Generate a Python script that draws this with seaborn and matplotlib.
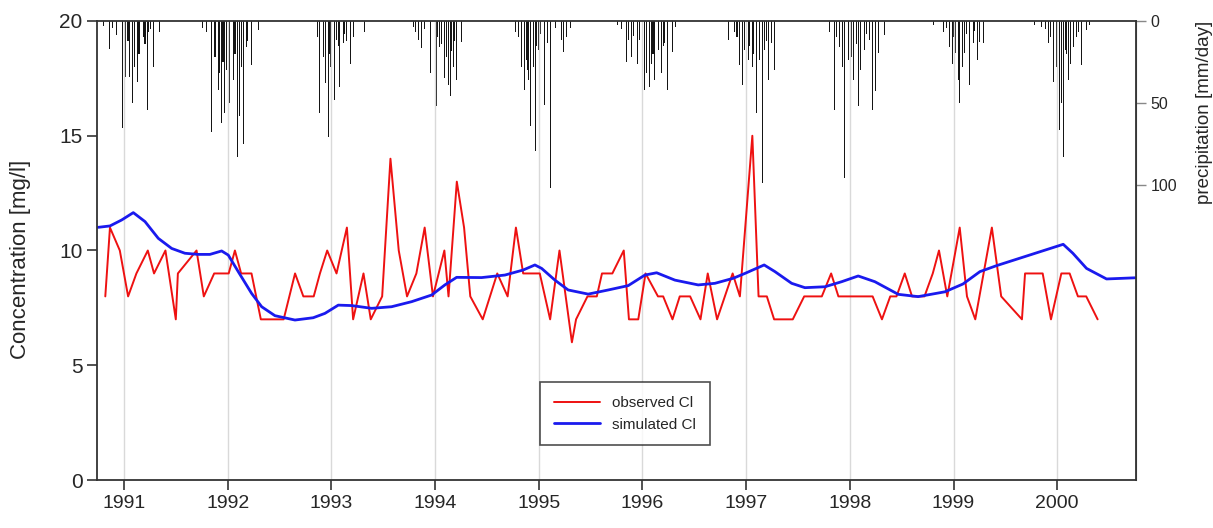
import matplotlib
matplotlib.use("Agg")
import matplotlib.pyplot as plt
import seaborn as sns
import pandas as pd

# ---------------- data (decimal years) ----------------
obs_dates = [1990.82, 1990.865, 1990.96, 1991.04, 1991.12, 1991.23, 1991.29, 1991.40, 1991.50, 1991.52,
             1991.70, 1991.77, 1991.87, 1992.01, 1992.07, 1992.13, 1992.23, 1992.32, 1992.54, 1992.65,
             1992.73, 1992.83, 1992.89, 1992.96, 1993.05, 1993.15, 1993.21, 1993.31, 1993.38, 1993.49,
             1993.57, 1993.65, 1993.73, 1993.82, 1993.90, 1993.98, 1994.09, 1994.13, 1994.21, 1994.28,
             1994.34, 1994.46, 1994.60, 1994.70, 1994.78, 1994.85, 1995.01, 1995.11, 1995.20, 1995.32,
             1995.36, 1995.47, 1995.56, 1995.61, 1995.71, 1995.82, 1995.87, 1995.96, 1996.03, 1996.15,
             1996.20, 1996.29, 1996.36, 1996.46, 1996.56, 1996.63, 1996.72, 1996.87, 1996.94, 1997.06,
             1997.12, 1997.20, 1997.27, 1997.45, 1997.56, 1997.73, 1997.82, 1997.89, 1998.22, 1998.31,
             1998.39, 1998.45, 1998.53, 1998.60, 1998.72, 1998.80, 1998.86, 1998.94, 1999.06, 1999.13,
             1999.21, 1999.37, 1999.46, 1999.66, 1999.69, 1999.86, 1999.94, 2000.04, 2000.12, 2000.20,
             2000.28, 2000.39]
obs_values = [8, 11, 10, 8, 9, 10, 9, 10, 7, 9,
              10, 8, 9, 9, 10, 9, 9, 7, 7, 9,
              8, 8, 9, 10, 9, 11, 7, 9, 7, 8,
              14, 10, 8, 9, 11, 8, 10, 8, 13, 11,
              8, 7, 9, 8, 11, 9, 9, 7, 10, 6,
              7, 8, 8, 9, 9, 10, 7, 7, 9, 8,
              8, 7, 8, 8, 7, 9, 7, 9, 8, 15,
              8, 8, 7, 7, 8, 8, 9, 8, 8, 7,
              8, 8, 9, 8, 8, 9, 10, 8, 11, 8,
              7, 11, 8, 7, 9, 9, 7, 9, 9, 8,
              8, 7]

sim_dates = [1990.752, 1990.865, 1990.978, 1991.090, 1991.203, 1991.331, 1991.460, 1991.588, 1991.716, 1991.829,
             1991.942, 1992.006, 1992.102, 1992.231, 1992.328, 1992.456, 1992.649, 1992.825, 1992.938, 1993.067,
             1993.196, 1993.389, 1993.581, 1993.774, 1993.967, 1994.095, 1994.208, 1994.449, 1994.674, 1994.850,
             1994.963, 1995.028, 1995.156, 1995.284, 1995.477, 1995.670, 1995.863, 1996.024, 1996.137, 1996.313,
             1996.538, 1996.699, 1996.876, 1996.988, 1997.174, 1997.278, 1997.439, 1997.567, 1997.760, 1997.921,
             1998.081, 1998.242, 1998.467, 1998.659, 1998.917, 1999.091, 1999.255, 1999.415, 2000.058, 2000.151,
             2000.283, 2000.476, 2000.749]
sim_values = [11.01, 11.07, 11.33, 11.65, 11.26, 10.53, 10.09, 9.88, 9.83, 9.83,
              9.98, 9.80, 9.08, 8.13, 7.55, 7.16, 6.97, 7.07, 7.26, 7.62,
              7.60, 7.48, 7.55, 7.77, 8.06, 8.50, 8.83, 8.82, 8.93, 9.15,
              9.37, 9.22, 8.71, 8.28, 8.10, 8.28, 8.47, 8.93, 9.03, 8.71,
              8.50, 8.57, 8.79, 9.00, 9.37, 9.08, 8.57, 8.38, 8.42, 8.64,
              8.89, 8.64, 8.09, 7.99, 8.20, 8.54, 9.08, 9.34, 10.27, 9.88,
              9.22, 8.76, 8.81]

precip_dates = [
    1990.800, 1990.865, 1990.894, 1990.930, 1990.987, 1991.019, 1991.039, 1991.058, 1991.084, 1991.106,
    1991.132, 1991.145, 1991.154, 1991.186, 1991.203, 1991.229, 1991.241, 1991.260, 1991.283, 1991.340,
    1991.762, 1991.797, 1991.846, 1991.878, 1991.909, 1991.926, 1991.942, 1991.955, 1991.974, 1991.993,
    1992.022, 1992.054, 1992.071, 1992.093, 1992.112, 1992.131, 1992.150, 1992.183, 1992.196, 1992.231,
    1992.295,
    1992.871, 1992.890, 1992.922, 1992.948, 1992.970, 1992.986, 1992.996, 1993.028, 1993.051, 1993.068,
    1993.083, 1993.115, 1993.131, 1993.150, 1993.186, 1993.211, 1993.324,
    1993.790, 1993.816, 1993.838, 1993.871, 1993.903, 1993.958, 1994.015, 1994.028, 1994.047, 1994.066,
    1994.089, 1994.112, 1994.127, 1994.150, 1994.162, 1994.175, 1994.190, 1994.208, 1994.256,
    1994.780, 1994.809, 1994.835, 1994.860, 1994.883, 1994.896, 1994.905, 1994.925, 1994.947, 1994.970,
    1994.983, 1995.002, 1995.021, 1995.053, 1995.086, 1995.115, 1995.166, 1995.221, 1995.236, 1995.269,
    1995.310,
    1995.757, 1995.802, 1995.848, 1995.863, 1995.896, 1995.918, 1995.954, 1995.976, 1996.017, 1996.040,
    1996.066, 1996.089, 1996.102, 1996.121, 1996.152, 1996.185, 1996.205, 1996.217, 1996.239, 1996.291,
    1996.323,
    1996.827, 1996.885, 1996.912, 1996.940, 1996.966, 1996.988, 1997.020, 1997.037, 1997.059, 1997.075,
    1997.101, 1997.133, 1997.155, 1997.181, 1997.201, 1997.220, 1997.246, 1997.278,
    1997.808, 1997.856, 1997.875, 1997.904, 1997.930, 1997.952, 1997.984, 1998.008, 1998.019, 1998.040,
    1998.060, 1998.081, 1998.107, 1998.146, 1998.165, 1998.194, 1998.220, 1998.252, 1998.274, 1998.332,
    1998.804, 1998.900, 1998.929, 1998.965, 1998.991, 1999.004, 1999.023, 1999.045, 1999.062, 1999.088,
    1999.110, 1999.129, 1999.151, 1999.190, 1999.206, 1999.232, 1999.255, 1999.286,
    1999.785, 1999.850, 1999.884, 1999.913, 1999.940, 1999.961, 1999.994, 2000.019, 2000.042, 2000.058,
    2000.081, 2000.093, 2000.106, 2000.129, 2000.154, 2000.187, 2000.210, 2000.235, 2000.284, 2000.315]
precip_values = [
    3, 17, 4, 8.5, 65, 34, 12, 34, 50, 28,
    37, 20, 16, 10, 14, 54, 7, 5, 28, 7,
    4, 7, 68, 22, 42, 32, 62, 25, 56, 30,
    50, 36, 20, 83, 58, 28, 75, 16, 12, 27,
    5.5,
    10, 56, 22, 38, 71, 20, 28, 48, 11.6, 15,
    40, 13.6, 8, 12, 26, 9.5, 7,
    3.5, 7, 11.6, 16.7, 5, 31.5, 52, 10, 16, 14,
    35, 22, 39, 46, 18, 28, 12, 36, 12.6,
    7, 10, 28, 42, 24, 30, 36, 64, 28, 79,
    15, 17.7, 8, 51, 13.6, 101.6, 4, 11.6, 18.7, 9.5,
    4.5,
    2.4, 5, 25, 11.6, 22, 9, 26, 11.6, 42, 32,
    40, 26, 20, 36, 17.7, 32, 15, 13.6, 42, 18.7,
    3.5,
    11.6, 7, 10, 27, 39, 17.7, 24, 15, 28, 20,
    56, 24, 98.6, 17.7, 12, 36, 13.6, 30,
    6.5, 54, 10, 16, 28, 96, 24, 17.7, 22, 36,
    14, 52, 30, 17.7, 8, 11.6, 54, 43, 19.7, 8.5,
    2.4, 6.5, 4, 16, 26, 10, 19.7, 36, 50, 28,
    19.7, 8, 39, 13.6, 6, 24, 12.6, 13.6,
    2.4, 3.5, 5, 13.6, 10, 37, 28, 66.5, 50, 83,
    17.7, 20, 36, 26, 16, 9.5, 7, 27, 5.5, 2.4]

year_ticks = list(range(1991, 2001))
conc_ticks = [0, 5, 10, 15, 20]
precip_ticks = [0, 50, 100]

obs_df = pd.DataFrame({"year": obs_dates, "conc": obs_values})
sim_df = pd.DataFrame({"year": sim_dates, "conc": sim_values})

# ---------------- style ----------------
sns.set_style("ticks")
plt.rcParams["font.family"] = ["Liberation Sans", "DejaVu Sans"]

fig = plt.figure(figsize=(12.13, 5.28), dpi=100)
ax = fig.add_axes([97 / 1213, 1 - 480 / 528, (1136 - 97) / 1213, (480 - 21) / 528])

for yr in year_ticks:
    ax.axvline(yr, color="#d9d9d9", lw=1.0, zorder=0)

sns.lineplot(data=obs_df, x="year", y="conc", ax=ax, color="#ee1111", lw=1.4,
             label="observed Cl", estimator=None)
sns.lineplot(data=sim_df, x="year", y="conc", ax=ax, color="#1a1aee", lw=2.0,
             label="simulated Cl", estimator=None)

ax.set_xlim(1990.74, 2000.76)
ax.set_ylim(0, 20)
ax.set_xticks(year_ticks)
ax.set_xticklabels([str(y) for y in year_ticks], fontsize=14)
ax.set_yticks(conc_ticks)
ax.set_yticklabels([str(v) for v in conc_ticks], fontsize=15)
ax.set_xlabel("")
ax.set_ylabel("Concentration [mg/l]", fontsize=16)
ax.yaxis.set_label_coords(-0.064, 0.48)
ax.tick_params(axis="both", direction="out", length=7, width=1.2, color="#333333")
for s in ax.spines.values():
    s.set_color("#333333")
    s.set_linewidth(1.3)

leg = ax.legend(loc="center", bbox_to_anchor=(0.508, 0.144), fontsize=11, frameon=True,
                fancybox=False, edgecolor="#222222", handlelength=3.0, borderpad=0.9,
                labelspacing=0.5)
leg.get_frame().set_linewidth(1.2)

ax2 = ax.twinx()
ax2.bar(precip_dates, precip_values, width=0.010, color="#151515", edgecolor="none", zorder=2)
ax2.set_ylim(280, 0)
ax2.set_yticks(precip_ticks)
ax2.set_yticklabels([str(v) for v in precip_ticks], fontsize=11.5)
ax2.set_ylabel("precipitation [mm/day]", fontsize=13.5)
ax2.yaxis.set_label_coords(1.058, 0.80)
ax2.tick_params(axis="y", direction="out", length=7, width=1.0, color="#888888")
for s in ax2.spines.values():
    s.set_visible(False)
ax2.spines["right"].set_visible(True)
ax2.spines["right"].set_color("#666666")

ax.set_zorder(ax2.get_zorder() + 1)
ax.patch.set_visible(False)

fig.savefig("out.png", dpi=100)
